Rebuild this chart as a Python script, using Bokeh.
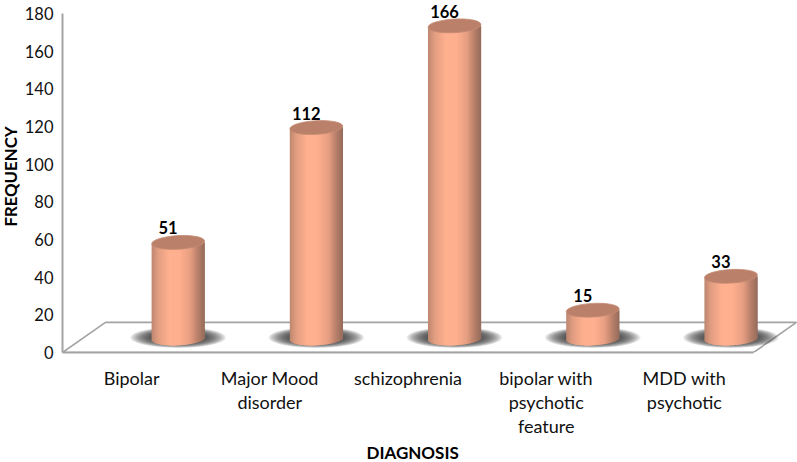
import numpy as np
from bokeh.plotting import figure
from bokeh.models import Range1d, FixedTicker, Title
from bokeh.embed import file_html
from bokeh.resources import INLINE
from bokeh.core.properties import value

categories = ["Bipolar", "Major Mood\ndisorder", "schizophrenia", "bipolar with\npsychotic\nfeature", "MDD with\npsychotic"]
frequency = [51, 112, 166, 15, 33]
y_ticks = [0, 20, 40, 60, 80, 100, 120, 140, 160, 180]

FONT = "Lato"
PAGE_W, PAGE_H = 797, 462
SHIFT = 8                      # figure is pulled over the page margin
AXIS_X, AXIS_Y = 62, 351       # position of the axis corner on the page
SLOT_PX = 138.2
PX_Y = 338 / 180.0
W, H = PAGE_W + SHIFT, PAGE_H + SHIFT
X_END = (PAGE_W - AXIS_X) / SLOT_PX
Y_END = AXIS_Y / PX_Y

p = figure(width=W, height=H, output_backend="svg", toolbar_location=None,
           x_range=Range1d(0, X_END), y_range=Range1d(0, Y_END),
           min_border_left=AXIS_X + SHIFT, min_border_right=0, min_border_top=SHIFT,
           min_border_bottom=0,
           background_fill_color="white", border_fill_color="white", outline_line_color=None)
p.styles = {"margin-left": "-8px", "margin-top": "-8px"}
p.grid.visible = False


def dx(px):
    return px / SLOT_PX


def dy(px):
    return px / PX_Y


# floor
depth_x, depth_y = dx(43), dy(30)
p.line([0, depth_x, 5 + depth_x, 5, 0], [0, depth_y, depth_y, 0, 0], line_color="#a3a3a3", line_width=1.6)

centers = [i + 0.5 + dx(46.5) for i in range(len(frequency))]
base = dy(14)
half_w, ry, tilt = 26.5, 6.8, 1.5

# blurred shadows
for frac in np.linspace(1.0, 0.55, 22):
    p.ellipse(centers, [dy(15)] * 5, width=dx(96 * frac), height=dy(21 * frac),
              fill_color="#303030", fill_alpha=0.075, line_color=None)

# cylinder body shading
stops_t = [-1.0, -0.75, -0.35, 0.05, 0.45, 0.75, 1.0]
stops_c = np.array([[190, 135, 112], [226, 158, 130], [255, 176, 143], [255, 176, 143],
                    [232, 160, 131], [184, 128, 106], [150, 108, 92]], float)
N = 54
ts = (np.arange(N) + 0.5) / N * 2 - 1
cols = ["#%02x%02x%02x" % tuple(int(np.interp(t, stops_t, stops_c[:, c])) for c in range(3)) for t in ts]
for cx, v in zip(centers, frequency):
    top_y = v + base
    h = np.sqrt(1 - ts ** 2) * ry
    sk = ts * tilt
    lefts = cx + dx(ts * half_w - half_w / N)
    rights = cx + dx(ts * half_w + half_w / N)
    rights[:-1] += dx(1.2)     # each strip runs under the next, so nothing shows through the seams
    p.quad(left=lefts, right=rights, bottom=base + dy(-h + sk), top=top_y + dy(-h + sk) + dy(0.5),
           fill_color=cols, fill_alpha=1.0, line_color=None)

# cylinder tops
p.ellipse(centers, [v + base for v in frequency], width=dx(53), height=dy(13.6), angle=0.055,
          fill_color="#ba806a", line_color="#c48a72", line_width=0.8)

# value labels
p.text([c - dx(10) for c in centers], [v + base for v in frequency], text=[str(v) for v in frequency],
       y_offset=-14.5, text_font=value(FONT), text_font_style="bold", text_font_size="16.5px",
       text_color="black", text_align="center", text_baseline="middle")

# axes
ya = p.yaxis[0]
ya.ticker = FixedTicker(ticks=y_ticks)
ya.bounds = (0, 180)
ya.axis_label = "FREQUENCY"
ya.axis_label_text_font = FONT
ya.axis_label_text_font_style = "bold"
ya.axis_label_text_font_size = "16.8px"
ya.axis_label_text_color = "black"
ya.axis_label_standoff = 1
ya.major_label_text_font = FONT
ya.major_label_text_font_size = "16.5px"
ya.major_label_text_color = "#111111"
ya.major_label_standoff = 9
ya.major_tick_line_color = None
ya.minor_tick_line_color = None
ya.major_tick_out = 0
ya.minor_tick_out = 0
ya.axis_line_color = "#a3a3a3"
ya.axis_line_width = 2

xa = p.xaxis[0]
xa.ticker = FixedTicker(ticks=[i + 0.5 for i in range(len(categories))])
xa.major_label_overrides = {i + 0.5: c for i, c in enumerate(categories)}
xa.major_label_text_font = FONT
xa.major_label_text_font_size = "18px"
xa.major_label_text_color = "#111111"
xa.major_label_text_line_height = 1.1
xa.major_label_standoff = 14
xa.major_tick_line_color = None
xa.minor_tick_line_color = None
xa.major_tick_out = 0
xa.minor_tick_out = 0
xa.axis_line_color = "#a3a3a3"
xa.axis_line_width = 2
xa.bounds = (0, 5)

p.add_layout(Title(text="DIAGNOSIS", align="left", offset=304, standoff=0,
                   text_font=FONT, text_font_style="bold", text_font_size="17px",
                   text_color="black"), "below")

open("out.html", "w").write(file_html(p, INLINE))
